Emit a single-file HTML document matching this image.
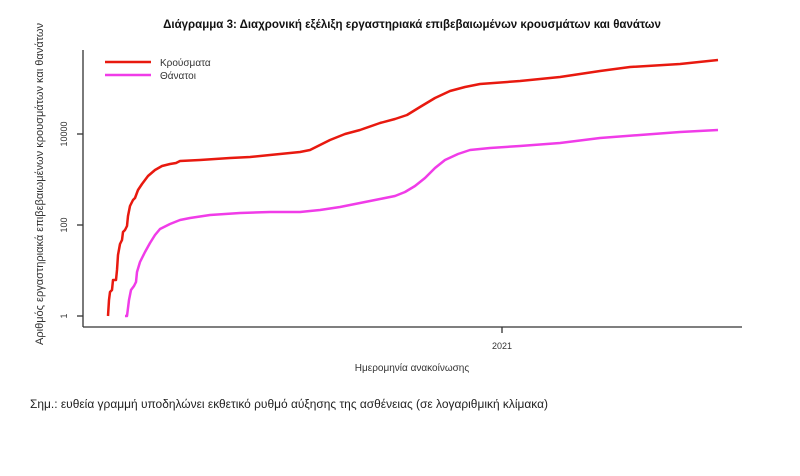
<!DOCTYPE html>
<html><head><meta charset="utf-8"><style>
html,body{margin:0;padding:0;background:#fff;width:800px;height:476px;overflow:hidden}
svg{display:block;font-family:"Liberation Sans","DejaVu Sans",sans-serif}
</style></head><body>
<svg width="800" height="476" viewBox="0 0 800 476" xmlns="http://www.w3.org/2000/svg">
<text x="412" y="28" text-anchor="middle" font-size="11.5" font-weight="bold" fill="#111">Διάγραμμα 3: Διαχρονική εξέλιξη εργαστηριακά επιβεβαιωμένων κρουσμάτων και θανάτων</text>
<g stroke="#333" stroke-width="1.3" fill="none">
<line x1="83" y1="50" x2="83" y2="327"/>
<line x1="83" y1="327" x2="742" y2="327"/>
<line x1="77" y1="316" x2="83" y2="316"/>
<line x1="77" y1="225" x2="83" y2="225"/>
<line x1="77" y1="134" x2="83" y2="134"/>
<line x1="502" y1="327" x2="502" y2="333"/>
</g>
<g font-size="9" fill="#333" text-anchor="middle">
<text transform="translate(67,316) rotate(-90)">1</text>
<text transform="translate(67,225) rotate(-90)">100</text>
<text transform="translate(67,134) rotate(-90)">10000</text>
<text x="502" y="349">2021</text>
<text x="412" y="371" font-size="10">Ημερομηνία ανακοίνωσης</text>
<text transform="translate(43,184) rotate(-90)" font-size="11" textLength="322" lengthAdjust="spacingAndGlyphs">Αριθμός εργαστηριακά επιβεβαιωμένων κρουσμάτων και θανάτων</text>
</g>
<text x="30" y="408" font-size="11.5" fill="#222" textLength="518" lengthAdjust="spacingAndGlyphs">Σημ.: ευθεία γραμμή υποδηλώνει εκθετικό ρυθμό αύξησης της ασθένειας (σε λογαριθμική κλίμακα)</text>
<line x1="105" y1="62" x2="151" y2="62" stroke="#e8190f" stroke-width="2.5"/>
<line x1="105" y1="75" x2="151" y2="75" stroke="#f03ce8" stroke-width="2.5"/>
<text x="160" y="66" font-size="10" fill="#333">Κρούσματα</text>
<text x="160" y="79" font-size="10" fill="#333">Θάνατοι</text>
<polyline fill="none" stroke="#e8190f" stroke-width="2.5" stroke-linejoin="round" points="108,316 109,300 110,292 112,290 113,280 116,280 117,270 118,255 120,244 122,240 123,232 125,230 127,226 128,216 130,206 133,200 135,198 138,190 142,184 148,176 155,170 162,166 170,164 176,163 180,161 200,160 230,158 250,157 270,155 300,152 310,150 320,145 330,140 345,134 360,130 380,123 395,119 407,115 420,107 435,98 450,91 465,87 480,84 520,81 560,77 580,74 600,71 630,67 680,64 718,60"/>
<polyline fill="none" stroke="#f03ce8" stroke-width="2.5" stroke-linejoin="round" points="125,316 127,316 129,300 131,290 134,286 136,282 137,272 140,262 145,252 150,243 155,235 160,229 170,224 180,220 190,218 210,215 240,213 270,212 300,212 320,210 340,207 360,203 380,199 395,196 405,192 415,186 425,178 435,168 445,160 458,154 470,150 490,148 520,146 560,143 600,138 640,135 680,132 718,130"/>
</svg>
</body></html>
